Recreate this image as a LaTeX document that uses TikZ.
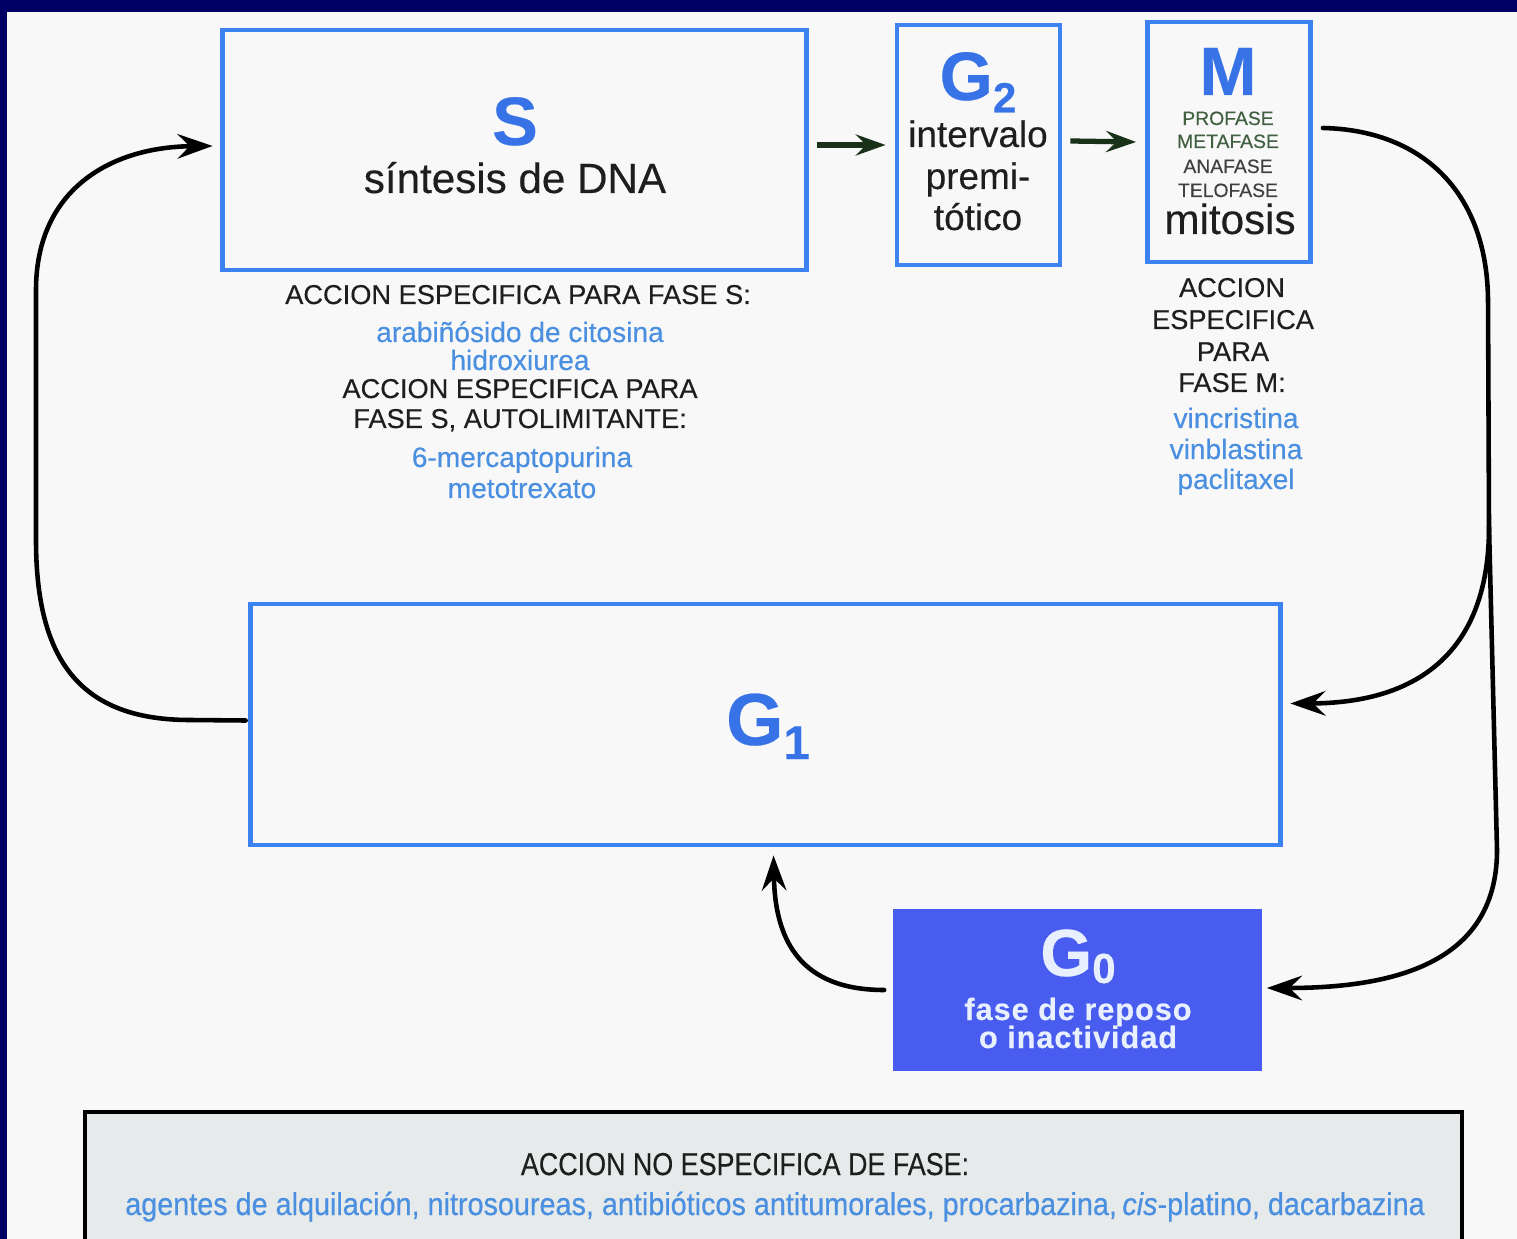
\documentclass[tikz,border=0pt]{standalone}
\usepackage{fontspec}
\setmainfont{Liberation Sans}[FakeBold=0.3]
\newfontfamily\narrowfont[FakeStretch=0.85,FakeBold=0.3]{Liberation Sans}
\newfontfamily\listfont[FakeStretch=0.91,FakeBold=0.5]{Liberation Sans}
\usetikzlibrary{arrows.meta,calc}

\definecolor{navy}{RGB}{0,0,100}
\definecolor{paper}{RGB}{248,248,248}
\definecolor{boxblue}{RGB}{60,130,240}
\definecolor{titleblue}{RGB}{55,115,230}
\definecolor{drugblue}{RGB}{74,143,224}
\definecolor{restblue}{RGB}{72,92,240}
\definecolor{restink}{RGB}{232,240,255}
\definecolor{ink}{RGB}{30,30,30}
\definecolor{arrowgreen}{RGB}{25,48,25}
\definecolor{phasegreen}{RGB}{65,95,65}
\definecolor{panelgray}{RGB}{230,234,234}

\newcommand{\fsz}[1]{\fontsize{#1}{#1}\selectfont}

\tikzset{
  phasebox/.style={draw=boxblue, line width=2.8pt, inner sep=0pt},
  lbl/.style={anchor=base, inner sep=0pt, text=ink},
  title/.style={anchor=base, inner sep=0pt, text=titleblue, font=\fsz{39}\bfseries},
  drug/.style={anchor=base, inner sep=0pt, text=drugblue, font=\fsz{16}},
  head/.style={anchor=base, inner sep=0pt, text=ink, font=\fsz{15.5}},
  cycle/.style={draw=black, line width=2.6pt, line cap=round,
    -{Stealth[length=20pt,width=14pt,inset=7pt]}},
  forward/.style={draw=arrowgreen, line width=3pt,
    -{Stealth[length=17pt,width=12pt,inset=6pt]}}
}

\begin{document}
\begin{tikzpicture}[x=0.02cm,y=-0.02cm]
\useasboundingbox (0,0) rectangle (1517,1239);
\clip (0,0) rectangle (1517,1239);
% slide background and white panel
\fill[navy] (0,0) rectangle (1517,1239);
\fill[paper] (7,12) rectangle (1517,1239);

% ---- phase boxes ----
\node[phasebox, minimum width=11.7cm, minimum height=4.8cm] (S) at (514.5,150) {};
\node[phasebox, minimum width=3.26cm, minimum height=4.8cm] (G2) at (978.5,145) {};
\node[phasebox, minimum width=3.26cm, minimum height=4.8cm] (M) at (1229,142) {};
\node[phasebox, minimum width=20.62cm, minimum height=4.82cm] (G1) at (765.5,724.5) {};
\node[fill=restblue, inner sep=0pt, minimum width=7.4cm, minimum height=3.26cm] (G0) at (1077.5,990) {};
\node[draw=black, fill=panelgray, line width=2.3pt, inner sep=0pt,
      minimum width=27.54cm, minimum height=3cm] (nonspec) at (773.5,1187) {};

% ---- S phase ----
\node[title] (Stitle) at (515,145) {S};
\node[lbl, font=\fsz{24}] (Stext) at (515,193) {síntesis de DNA};

% ---- G2 phase ----
\node[title] (G2title) at (978,100) {G\raisebox{-7pt}{\fsz{24}\bfseries 2}};
\node[lbl, font=\fsz{21}] (G2a) at (978,147) {intervalo};
\node[lbl, font=\fsz{21}] (G2b) at (978,189) {premi-};
\node[lbl, font=\fsz{21}] (G2c) at (978,230) {tótico};

% ---- M phase ----
\node[title] (Mtitle) at (1228,95) {M};
\node[lbl, text=phasegreen, font=\fsz{11}] (pro) at (1228,125) {PROFASE};
\node[lbl, text=phasegreen, font=\fsz{11}] (meta) at (1228,148) {METAFASE};
\node[lbl, text=ink!85, font=\fsz{11}] (ana) at (1228,173) {ANAFASE};
\node[lbl, text=ink!85, font=\fsz{11}] (telo) at (1228,197) {TELOFASE};
\node[lbl, font=\fsz{24}] (mitosis) at (1230,234) {mitosis};

% ---- G1 and G0 ----
\node[title, font=\fsz{42}\bfseries] (G1title) at (768,745) {G\raisebox{-8pt}{\fsz{27}\bfseries 1}};
\node[anchor=base, inner sep=0pt, text=restink, font=\fsz{38}\bfseries] (G0title) at (1078,976)
  {G\raisebox{-4pt}{\fsz{24}\bfseries 0}};
\node[anchor=base, inner sep=0pt, text=restink, font=\fsz{17.5}\bfseries] (G0a) at (1078,1020)
  {\addfontfeature{LetterSpace=3}fase de reposo};
\node[anchor=base, inner sep=0pt, text=restink, font=\fsz{17.5}\bfseries] (G0b) at (1078,1048)
  {\addfontfeature{LetterSpace=3}o inactividad};

% ---- S-specific agents ----
\node[head] (sh1) at (518,304) {ACCION ESPECIFICA PARA FASE S:};
\node[drug] (sd1) at (520,342) {arabiñósido de citosina};
\node[drug] (sd2) at (520,370) {hidroxiurea};
\node[head] (sh2) at (520,398) {ACCION ESPECIFICA PARA};
\node[head] (sh3) at (520,428) {FASE S, AUTOLIMITANTE:};
\node[drug] (sd3) at (522,467) {6-mercaptopurina};
\node[drug] (sd4) at (522,498) {metotrexato};

% ---- M-specific agents ----
\node[head] (mh1) at (1232,297) {ACCION};
\node[head] (mh2) at (1233,329) {ESPECIFICA};
\node[head] (mh3) at (1233,361) {PARA};
\node[head] (mh4) at (1232,392) {FASE M:};
\node[drug] (md1) at (1236,428) {vincristina};
\node[drug] (md2) at (1236,459) {vinblastina};
\node[drug] (md3) at (1236,489) {paclitaxel};

% ---- phase-nonspecific agents ----
\node[anchor=base, inner sep=0pt, text=ink, font=\narrowfont\fsz{18}] (nh) at (745,1175)
  {ACCION NO ESPECIFICA DE FASE:};
\node[anchor=base, inner sep=0pt, text=drugblue, font=\listfont\fsz{18}] (nd) at (775,1215)
  {agentes de alquilación, nitrosoureas, antibióticos antitumorales, procarbazina,\,\textit{cis}-platino, dacarbazina};

% ---- forward arrows S -> G2 -> M ----
\draw[forward] ($(S.east)+(8,-5)$) -- ($(G2.west)+(-9,0)$);
\draw[forward] ($(G2.east)+(8,-4)$) -- ($(M.west)+(-9,0)$);

% ---- exit from M down the right side ----
\coordinate (split) at (1489,527);
\draw[cycle] ($(M.east)+(10,-14)$) .. controls (1420,130) and (1487,190) .. (1488,300)
  -- (split) -- (1497,850)
  .. controls (1497,960) and (1400,988) .. ($(G0.east)+(4,-2)$);
\draw[cycle] (split) .. controls (1489,650) and (1420,703) .. ($(G1.east)+(7,-21)$);

% ---- G1 back to S ----
\draw[cycle] ($(G1.west)+(-2,-4)$) -- (190,720)
  .. controls (80,720) and (36,660) .. (36,540) -- (36,290)
  .. controls (36,190) and (110,147) .. ($(S.west)+(-7,-4)$);

% ---- G0 back to G1 ----
\draw[cycle] ($(G0.west)+(-8,0)$) .. controls (800,990) and (775,940) .. ($(G1.south)+(8,8)$);
\end{tikzpicture}
\end{document}
